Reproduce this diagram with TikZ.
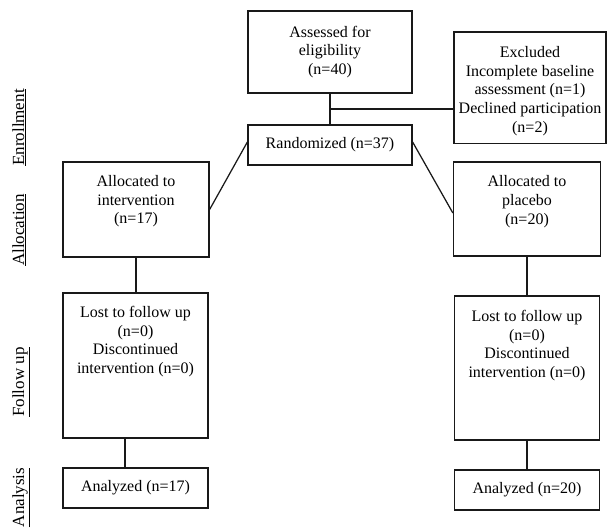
\documentclass[tikz,border=0pt]{standalone}
\usepackage{fontspec}
\setmainfont{Liberation Serif}
\begin{document}
\begin{tikzpicture}[x=1pt,y=-1pt,
  box/.style={draw=black!90, line width=1.25pt, inner sep=0pt, align=center,
              font=\fontsize{16}{18.7}\selectfont},
  txt/.style={align=center, inner sep=0pt, font=\fontsize{16}{18.7}\selectfont},
  conn/.style={draw=black!90, line width=1.25pt},
  lbl/.style={rotate=90, anchor=base, inner sep=0pt, font=\fontsize{17}{20}\selectfont}]
\useasboundingbox (0,0) rectangle (608,528);

% boxes
\node[box, minimum width=164pt, minimum height=82pt] (assess) at (330,52)
  {Assessed for\\eligibility\\(n=40)};
\node[box, minimum width=164pt, minimum height=40pt] (rand) at (330,145)
  {Randomized (n=37)};
\node[box, minimum width=152pt, minimum height=111.5pt] (excl) at (530,87.75) {};
\node[txt] (exclt) at (530,91)
  {Excluded\\Incomplete baseline\\assessment (n=1)\\Declined participation\\(n=2)};

\node[box, minimum width=146pt, minimum height=95pt] (allocI) at (136,209.5) {};
\node[txt, anchor=north] (allocIt) at (136,175) {Allocated to\\intervention\\(n=17)};
\node[box, minimum width=147pt, minimum height=94pt] (allocP) at (527,209) {};
\node[txt, anchor=north] (allocPt) at (527,175.5) {Allocated to\\placebo\\(n=20)};

\node[box, minimum width=145pt, minimum height=145pt] (lostI) at (135.5,365.5) {};
\node[txt, anchor=north] (lostIt) at (135.5,306)
  {Lost to follow up\\(n=0)\\Discontinued\\intervention (n=0)};
\node[box, minimum width=145pt, minimum height=144pt] (lostP) at (527,368) {};
\node[txt, anchor=north] (lostPt) at (527,310)
  {Lost to follow up\\(n=0)\\Discontinued\\intervention (n=0)};

\node[box, minimum width=145pt, minimum height=40pt] (anaI) at (135.5,488) {Analyzed (n=17)};
\node[box, minimum width=145pt, minimum height=40pt] (anaP) at (527,490) {Analyzed (n=20)};

% connectors
\draw[conn] (assess.south) -- (rand.north);
\coordinate (jx) at (330,109);
\draw[conn] (jx) -- (jx -| excl.west);
\draw[conn] ([yshift=3pt]rand.west) -- (allocI.east);
\draw[conn] ([yshift=3pt]rand.east) -- ([yshift=-4pt]allocP.west);
\draw[conn] (allocI.south) -- (allocI.south |- lostI.north);
\draw[conn] ([xshift=-10.5pt]lostI.south) -- ([xshift=-10.5pt]anaI.north);
\draw[conn] (allocP.south) -- (lostP.north);
\draw[conn] (lostP.south) -- (anaP.north);

% side labels
\node[lbl] (enr) at (24,127.5) {\underline{Enrollment}};
\node[lbl] (all) at (24,230) {\underline{Allocation}};
\node[lbl] (fol) at (24,382) {\underline{Follow up}};
\node[lbl] (ana) at (24,497.5) {\underline{Analysis}};
\end{tikzpicture}
\end{document}
